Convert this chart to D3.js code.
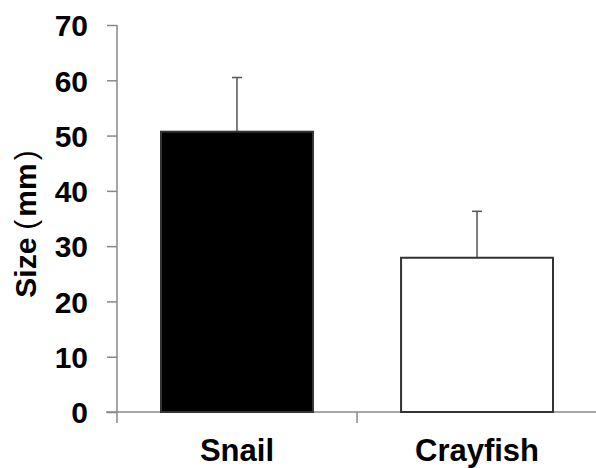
<!DOCTYPE html>
<html>
<head>
<meta charset="utf-8">
<script src="https://cdn.jsdelivr.net/npm/d3@7"></script>
<style>
  body { margin: 0; background: #fff; }
  svg text { font-family: "Liberation Sans", Arial, sans-serif; font-weight: 700; fill: #000; }
</style>
</head>
<body>
<div id="chart"></div>
<script>
// 資料
const categories = ["Snail", "Crayfish"];
const means = [50.7, 27.9];
const errors = [9.8, 8.4];
const yTicks = [0, 10, 20, 30, 40, 50, 60, 70];

const width = 596, height = 468;
const x0 = 117, x1 = 597, yTop = 25, yBottom = 412;

const svg = d3.select("#chart").append("svg")
    .attr("width", width)
    .attr("height", height);

const x = d3.scaleBand()
    .domain(categories)
    .range([x0, x1])
    .paddingInner(0.367)
    .paddingOuter(0.1833);

const y = d3.scaleLinear()
    .domain([0, 70])
    .range([yBottom, yTop]);

// y 軸
const yAxis = svg.append("g")
    .attr("transform", `translate(${x0},0)`)
    .call(d3.axisLeft(y).tickValues(yTicks).tickSize(10).tickPadding(19));
yAxis.select(".domain").remove();
yAxis.selectAll("line").attr("stroke", "#888").attr("stroke-width", 1.5);
yAxis.selectAll("text").style("font-size", "30px").attr("dy", "0.36em");

svg.append("line")
    .attr("x1", x0).attr("x2", x0)
    .attr("y1", y(70)).attr("y2", yBottom + 11)
    .attr("stroke", "#888").attr("stroke-width", 1.5);

// x 軸
svg.append("line")
    .attr("x1", x0 - 11).attr("x2", width)
    .attr("y1", yBottom).attr("y2", yBottom)
    .attr("stroke", "#888").attr("stroke-width", 1.5);

svg.selectAll(".xtick")
    .data([x0 + x.step()])
    .enter().append("line")
    .attr("x1", d => d).attr("x2", d => d)
    .attr("y1", yBottom).attr("y2", yBottom + 11)
    .attr("stroke", "#888").attr("stroke-width", 1.5);

svg.selectAll(".xlabel")
    .data(categories)
    .enter().append("text")
    .attr("x", d => x(d) + x.bandwidth() / 2)
    .attr("y", 461)
    .attr("text-anchor", "middle")
    .style("font-size", "31px")
    .text(d => d);

// 誤差棒
const errG = svg.selectAll(".err")
    .data(categories)
    .enter().append("g")
    .attr("stroke", "#555")
    .attr("stroke-width", 1.5);
errG.append("line")
    .attr("x1", d => x(d) + x.bandwidth() / 2)
    .attr("x2", d => x(d) + x.bandwidth() / 2)
    .attr("y1", (d, i) => y(means[i]))
    .attr("y2", (d, i) => y(means[i] + errors[i]));
errG.append("line")
    .attr("x1", d => x(d) + x.bandwidth() / 2 - 5)
    .attr("x2", d => x(d) + x.bandwidth() / 2 + 5)
    .attr("y1", (d, i) => y(means[i] + errors[i]))
    .attr("y2", (d, i) => y(means[i] + errors[i]));

// 長條
svg.selectAll(".bar")
    .data(categories)
    .enter().append("rect")
    .attr("x", d => x(d))
    .attr("width", x.bandwidth())
    .attr("y", (d, i) => y(means[i]))
    .attr("height", (d, i) => yBottom - y(means[i]))
    .attr("fill", (d, i) => i === 0 ? "#000" : "#fff")
    .attr("stroke", "#333")
    .attr("stroke-width", 2);

// y 軸標題
const yTitle = svg.append("text")
    .attr("transform", "translate(36,224) rotate(-90)")
    .attr("text-anchor", "middle")
    .style("font-size", "30px");
yTitle.append("tspan").text("Size");
yTitle.append("tspan").attr("dx", 8).style("font-weight", 400).text("(");
yTitle.append("tspan").attr("dx", 3).text("mm");
yTitle.append("tspan").attr("dx", 3).style("font-weight", 400).text(")");
</script>
</body>
</html>
